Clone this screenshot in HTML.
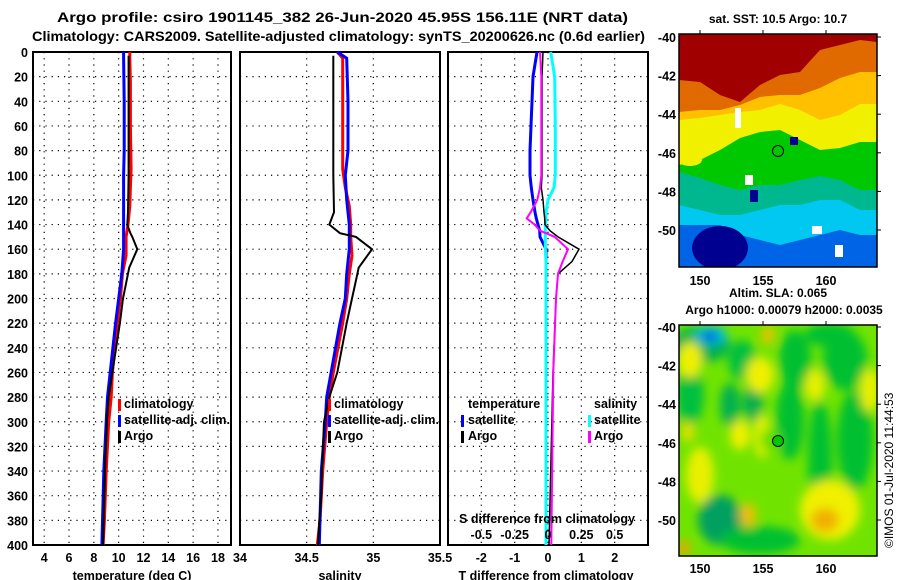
<!DOCTYPE html>
<html><head><meta charset="utf-8">
<style>
html,body{margin:0;padding:0;background:#fff;}
svg{display:block;font-family:"Liberation Sans",Arial,sans-serif;font-weight:bold;}
</style></head>
<body>
<svg id="chart" width="900" height="580" viewBox="0 0 900 580" xmlns="http://www.w3.org/2000/svg">
<defs>
<filter id="blur4" x="-20%" y="-20%" width="140%" height="140%"><feGaussianBlur stdDeviation="5"/></filter>
<clipPath id="clipTop"><rect x="679" y="34" width="198" height="233"/></clipPath>
<clipPath id="clipBot"><rect x="679" y="325" width="198" height="231"/></clipPath>
</defs>
<text x="57" y="22" font-size="14" textLength="571" lengthAdjust="spacingAndGlyphs">Argo profile: csiro 1901145_382 26-Jun-2020 45.95S 156.11E (NRT data)</text>
<text x="32" y="41" font-size="14" textLength="613" lengthAdjust="spacingAndGlyphs">Climatology: CARS2009. Satellite-adjusted climatology: synTS_20200626.nc (0.6d earlier)</text>
<g id="plots"></g>
<g id="maps"></g>
</svg>
<script>
// ---- data ----
const depthTicks = [0,20,40,60,80,100,120,140,160,180,200,220,240,260,280,300,320,340,360,380,400];
const tempTicks = [4,6,8,10,12,14,16,18];
const salTicks = [34,34.5,35,35.5];
const tdiffTicks = [-2,-1,0,1,2];
const sdiffTicks = [-0.5,-0.25,0,0.25,0.5];

const argoDepth = [3,20,60,100,130,140,147,150,160,175,190,200,220,260,280,300,340,360,380,400];
const argoTemp  = [10.8,10.8,10.8,10.8,10.75,10.7,10.95,11.1,11.5,10.85,10.55,10.35,10.1,9.5,9.2,9.05,8.9,8.85,8.8,8.75];
const argoSal   = [34.70,34.70,34.70,34.70,34.705,34.67,34.75,34.87,34.99,34.89,34.86,34.84,34.80,34.73,34.67,34.63,34.615,34.61,34.595,34.585];

const climDepth = [0,5,25,60,95,110,125,140,150,165,180,200,220,260,280,300,340,380,400];
const climTemp  = [10.9,10.9,10.95,10.95,11.0,10.95,10.9,10.75,10.6,10.6,10.3,10.15,9.9,9.5,9.4,9.2,9.0,8.85,8.75];
const climSal   = [34.73,34.77,34.77,34.77,34.77,34.79,34.82,34.83,34.83,34.84,34.82,34.80,34.77,34.70,34.67,34.65,34.62,34.60,34.58];

const satDepth = [0,5,40,80,100,120,140,160,180,200,220,280,300,340,400];
const satTemp  = [10.4,10.4,10.45,10.45,10.4,10.4,10.4,10.4,10.25,10.0,9.75,9.1,9.0,8.8,8.65];
const satSal   = [34.73,34.80,34.81,34.81,34.79,34.80,34.82,34.82,34.80,34.79,34.75,34.65,34.64,34.61,34.595];

const diffDepth = [0,20,60,80,100,110,120,130,135,140,145,150,160,170,180,200,260,400];
const tSatDiff  = [-0.33,-0.45,-0.51,-0.54,-0.54,-0.5,-0.45,-0.39,-0.35,-0.3,-0.25,-0.24,-0.06,-0.06,-0.06,-0.06,-0.06,-0.06];
const tArgoDiff = [-0.15,-0.18,-0.18,-0.18,-0.18,-0.2,-0.15,-0.12,-0.1,-0.09,0.06,0.3,0.93,0.72,0.3,0.24,0.15,0.03];
const sArgoDiff = [-0.06,-0.05,-0.05,-0.05,-0.05,-0.06,-0.08,-0.13,-0.16,-0.1,-0.06,0.05,0.15,0.11,0.075,0.06,0.04,0.025];
const sSatDiff  = [0.02,0.05,0.055,0.055,0.055,0.045,0.0,-0.015,-0.015,-0.02,-0.02,-0.02,-0.02,-0.015,-0.015,-0.015,-0.015,-0.015];

// ---- helpers ----
const NS = "http://www.w3.org/2000/svg";
const plots = document.getElementById('plots');
function mk(tag, attrs, parent){
  const e = document.createElementNS(NS, tag);
  for (const k in attrs) e.setAttribute(k, attrs[k]);
  (parent||plots).appendChild(e);
  return e;
}
const yTop = 52, yBot = 545;
function yDepth(d){ return yTop + d*(yBot-yTop)/400; }
function linScale(d0,d1,p0,p1){ return v => p0 + (v-d0)*(p1-p0)/(d1-d0); }
const xTemp = linScale(3.1,19.05,33,231);
const xSal = linScale(34,35.5,240,440);
const xTd = linScale(-3,3,448,648);
const xSd = linScale(-0.75,0.75,448,648);
const FS = 12.5;

function frame(x0,x1,name){
  const r = mk('rect',{x:x0,y:yTop,width:x1-x0,height:yBot-yTop,fill:'none',stroke:'#000','stroke-width':2});
  
  
  depthTicks.forEach(d=>{
    if(d===0||d===400) return;
    const l = mk('line',{x1:x0,x2:x1,y1:yDepth(d),y2:yDepth(d),stroke:'#000','stroke-width':1.2,'stroke-dasharray':'1.2,5'});
    
    
  });
}
function vgrid(xs, x0, x1){
  xs.forEach(x=>{
    if(x<=x0+1||x>=x1-1) return;
    const l = mk('line',{x1:x,x2:x,y1:yTop,y2:yBot,stroke:'#000','stroke-width':1.2,'stroke-dasharray':'1.2,5'});
    
    
  });
}
function text(x,y,s,size,anchor,name,fill){
  const t = mk('text',{x:x,y:y,'font-size':size||FS,'text-anchor':anchor||'start',fill:fill||'#000'});
  t.textContent = s;
  
  
  return t;
}
function line(depths, vals, sx, color, w, name){
  const pts = depths.map((d,i)=>sx(vals[i]).toFixed(1)+','+yDepth(d).toFixed(1)).join(' ');
  const p = mk('polyline',{points:pts,fill:'none',stroke:color,'stroke-width':w,'stroke-linejoin':'miter'});
  
  
}
function legendMark(x,y,color,name){
  const r = mk('rect',{x:x,y:y-10,width:3,height:12,fill:color});
  
  
}

// y labels
depthTicks.forEach(d=> text(28, yDepth(d)+5, String(d), FS, 'end', 'y-tick-label'));

// panel 1: temperature
frame(33,231,'temperature-panel');
vgrid(tempTicks.map(xTemp),33,231);
tempTicks.forEach(v=> text(xTemp(v), 562, String(v), FS, 'middle', 'temp-tick-label'));
text(132, 580, 'temperature (deg C)', FS, 'middle', 'x-axis-title-temperature');
line(climDepth, climTemp, xTemp, '#ff0000', 3, 'temp-climatology-line');
line(satDepth, satTemp, xTemp, '#0000ff', 3, 'temp-satellite-line');
line(argoDepth, argoTemp, xTemp, '#000000', 2, 'temp-argo-line');
legendMark(118,409,'#ff0000','legend-mark-climatology');
legendMark(118,425,'#0000ff','legend-mark-satellite');
legendMark(118,441,'#000000','legend-mark-argo');
text(124,408,'climatology',FS,'start','legend-climatology');
text(124,424,'satellite-adj. clim.',FS,'start','legend-satellite-adj').setAttribute('textLength','106');
text(124,440,'Argo',FS,'start','legend-argo');

// panel 2: salinity
frame(240,440,'salinity-panel');
vgrid(salTicks.map(xSal),240,440);
salTicks.forEach(v=> text(xSal(v), 562, String(v), FS, 'middle', 'sal-tick-label'));
text(340, 580, 'salinity', FS, 'middle', 'x-axis-title-salinity');
line(climDepth, climSal, xSal, '#ff0000', 3, 'sal-climatology-line');
line(satDepth, satSal, xSal, '#0000ff', 3, 'sal-satellite-line');
line(argoDepth, argoSal, xSal, '#000000', 2, 'sal-argo-line');
legendMark(328,409,'#ff0000','legend-mark-climatology');
legendMark(328,425,'#0000ff','legend-mark-satellite');
legendMark(328,441,'#000000','legend-mark-argo');
text(334,408,'climatology',FS,'start','legend-climatology');
text(334,424,'satellite-adj. clim.',FS,'start','legend-satellite-adj').setAttribute('textLength','105');
text(334,440,'Argo',FS,'start','legend-argo');

// panel 3: differences
frame(448,648,'difference-panel');
vgrid(tdiffTicks.map(xTd),448,648);
tdiffTicks.forEach(v=> text(xTd(v), 562, String(v), FS, 'middle', 'tdiff-tick-label'));
text(546, 580, 'T difference from climatology', FS, 'middle', 'x-axis-title-tdiff');
line(diffDepth, tSatDiff, xTd, '#0000ff', 3, 'tdiff-satellite-line');
line(diffDepth, sSatDiff, xSd, '#00ffff', 3, 'sdiff-satellite-line');
line(diffDepth, tArgoDiff, xTd, '#000000', 1.5, 'tdiff-argo-line');
line(diffDepth, sArgoDiff, xSd, '#ff00ff', 2, 'sdiff-argo-line');
text(468,408,'temperature',FS,'start','legend-temperature-header');
legendMark(461,425,'#0000ff','legend-mark-t-satellite');
legendMark(461,441,'#000000','legend-mark-t-argo');
text(468,424,'satellite',FS,'start','legend-t-satellite');
text(468,440,'Argo',FS,'start','legend-t-argo');
text(594,408,'salinity',FS,'start','legend-salinity-header');
legendMark(588,425,'#00ffff','legend-mark-s-satellite');
legendMark(588,441,'#ff00ff','legend-mark-s-argo');
text(594,424,'satellite',FS,'start','legend-s-satellite');
text(594,440,'Argo',FS,'start','legend-s-argo');
text(459,523,'S difference from climatology',FS,'start','sdiff-axis-title').setAttribute('textLength','176');
sdiffTicks.forEach(v=> text(xSd(v), 539, String(v), FS, 'middle', 'sdiff-tick-label'));
</script>
<script>
// ---- maps ----
const NS2 = "http://www.w3.org/2000/svg";
const maps = document.getElementById('maps');
function m(tag, attrs, parent){
  const e = document.createElementNS(NS2, tag);
  for (const k in attrs) e.setAttribute(k, attrs[k]);
  (parent||maps).appendChild(e);
  return e;
}
const bx = [679,700,720,740,760,780,800,820,840,860,877];
const bands = [
 ['#a00000',[80,82,95,102,85,75,72,50,45,40,42]],
 ['#e06a00',[112,110,110,105,97,95,95,88,78,72,72]],
 ['#ffc000',[120,118,115,112,110,104,110,120,115,104,104]],
 ['#f0f000',[165,160,150,138,132,130,140,150,148,142,142]],
 ['#00c800',[172,178,185,190,185,185,180,176,180,190,190]],
 ['#00b890',[205,210,215,215,210,205,205,200,200,210,210]],
 ['#00c8f0',[225,225,225,235,240,245,240,235,230,235,235]],
 ['#0064e6',null]
];
const gTop = m('g',{'clip-path':'url(#clipTop)'});


m('rect',{x:679,y:34,width:198,height:233,fill:'#0064e6'},gTop);
for(let i=bands.length-2;i>=0;i--){
  const ys = bands[i][1];
  let pts = '679,34 877,34 ';
  for(let j=bx.length-1;j>=0;j--) pts += bx[j]+','+ys[j]+' ';
  const p = m('polygon',{points:pts,fill:bands[i][0]},gTop);
  
  
}
m('ellipse',{cx:720,cy:248,rx:28,ry:22,fill:'#000090'},gTop);
m('ellipse',{cx:690,cy:160,rx:12,ry:6,fill:'#f0f000'},gTop);
m('rect',{x:750,y:190,width:8,height:12,fill:'#000090'},gTop);
m('rect',{x:745,y:175,width:8,height:10,fill:'#ffffff'},gTop);
m('rect',{x:735,y:108,width:6,height:20,fill:'#ffffff'},gTop);
m('rect',{x:812,y:226,width:10,height:8,fill:'#ffffff'},gTop);
m('rect',{x:835,y:245,width:8,height:12,fill:'#ffffff'},gTop);
m('rect',{x:790,y:137,width:8,height:8,fill:'#000090'},gTop);
m('rect',{x:679,y:34,width:198,height:233,fill:'none',stroke:'#000','stroke-width':1.5});
const c1 = m('circle',{cx:778,cy:151,r:5.5,fill:'#00c800',stroke:'#000','stroke-width':1});



// bottom SLA map
const gBot = m('g',{'clip-path':'url(#clipBot)'});


m('rect',{x:679,y:325,width:198,height:231,fill:'#70e400'},gBot);
const gb = m('g',{filter:'url(#blur4)'},gBot);
const blobs = [
 [700,345,30,18,'#00b050'],[711,335,16,9,'#00c0e0'],[710,336,8,5,'#0050e0'],
 [742,360,14,20,'#00c040'],[690,395,14,30,'#00c040'],[730,405,10,22,'#00b050'],
 [753,402,10,20,'#00b050'],[795,360,16,30,'#00c030'],[790,420,14,40,'#00c030'],
 [820,460,12,60,'#00c030'],[845,360,22,30,'#00c030'],[855,440,18,50,'#00c030'],
 [830,335,25,12,'#00c030'],[720,520,22,25,'#00a060'],[760,540,40,14,'#00c030'],
 [690,360,12,18,'#f0f000'],[688,432,6,10,'#f0e000'],[760,375,14,18,'#f0f000'],
 [768,335,6,10,'#f0c000'],[762,436,8,22,'#e8f000'],[700,475,14,28,'#e8f000'],
 [830,510,30,30,'#f0f000'],[825,520,14,12,'#f0b000'],[748,515,8,12,'#f0c000'],
 [815,385,10,16,'#e8f000'],[870,390,10,22,'#e8f000'],[684,548,6,8,'#f0a000'],
 [740,435,10,15,'#f0f000'],[770,440,10,12,'#60e000']
];
blobs.forEach(b=>{
  const e = m('ellipse',{cx:b[0],cy:b[1],rx:b[2],ry:b[3],fill:b[4]},gb);
  
  
});
m('rect',{x:679,y:325,width:198,height:231,fill:'none',stroke:'#000','stroke-width':1.5});
const c2 = m('circle',{cx:778,cy:441,r:5.5,fill:'#00c800',stroke:'#000','stroke-width':1});



function t2(x,y,s,size,anchor,name){
  const t = m('text',{x:x,y:y,'font-size':size,'text-anchor':anchor});
  t.textContent = s;
  
  
  return t;
}
t2(778,23,'sat. SST: 10.5 Argo: 10.7',12,'middle','sst-map-title');
t2(778,297,'Altim. SLA: 0.065',12,'middle','sla-map-title-1');
t2(784,314,'Argo h1000: 0.00079 h2000: 0.0035',12,'middle','sla-map-title-2');
const lats = [-40,-42,-44,-46,-48,-50];
const lons = [150,155,160];
function latY(lat, y40){ return y40 + (-40-lat)*19.3; }
function lonX(lon){ return 700 + (lon-150)*12.6; }
lats.forEach(l=>{
  t2(676, latY(l,37)+5, String(l), FS, 'end', 'sst-lat-label');
  t2(676, latY(l,327)+5, String(l), FS, 'end', 'sla-lat-label');
  m('line',{x1:877,x2:881,y1:latY(l,37),y2:latY(l,37),stroke:'#000'});
  m('line',{x1:877,x2:881,y1:latY(l,327),y2:latY(l,327),stroke:'#000'});
});
lons.forEach(l=>{
  t2(lonX(l), 285, String(l), FS, 'middle', 'sst-lon-label');
  t2(lonX(l), 573, String(l), FS, 'middle', 'sla-lon-label');
  m('line',{x1:lonX(l),x2:lonX(l),y1:30,y2:34,stroke:'#000'});
  m('line',{x1:lonX(l),x2:lonX(l),y1:321,y2:325,stroke:'#000'});
});
const stamp = m('text',{x:0,y:0,'font-size':12,'font-weight':'normal',transform:'translate(893,548) rotate(-90)'});
stamp.textContent = '©IMOS 01-Jul-2020 11:44:53';


</script>
</body></html>
